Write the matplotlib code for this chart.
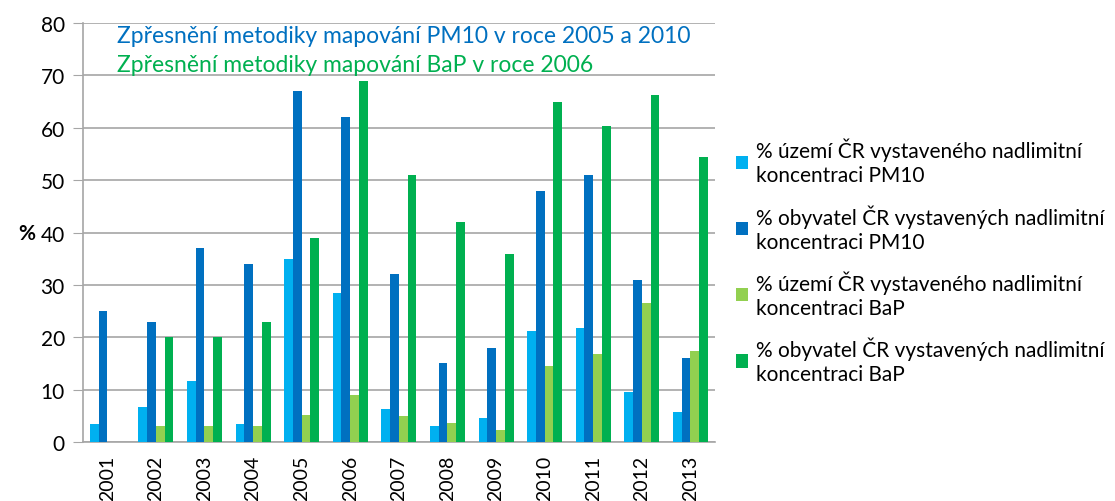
import numpy as np
import matplotlib.pyplot as plt

plt.rcParams['font.family'] = ['Lato', 'DejaVu Sans']

# --- Data ---
roky = ['2001', '2002', '2003', '2004', '2005', '2006', '2007',
        '2008', '2009', '2010', '2011', '2012', '2013']
uzemi_pm10 = [3.4, 6.6, 11.6, 3.4, 35, 28.5, 6.3, 3.0, 4.5, 21.2, 21.8, 9.6, 5.7]
obyv_pm10 = [25, 23, 37, 34, 67, 62, 32, 15, 18, 48, 51, 31, 16]
uzemi_bap = [0, 3.0, 3.0, 3.0, 5.1, 9.0, 4.9, 3.6, 2.35, 14.5, 16.8, 26.6, 17.4]
obyv_bap = [0, 20, 20, 23, 39, 69, 51, 42, 36, 65, 60.3, 66.3, 54.5]

popisky = [
    '% území ČR vystaveného nadlimitní\nkoncentraci PM10',
    '% obyvatel ČR vystavených nadlimitní\nkoncentraci PM10',
    '% území ČR vystaveného nadlimitní\nkoncentraci BaP',
    '% obyvatel ČR vystavených nadlimitní\nkoncentraci BaP',
]
barvy = ['#00B0F0', '#0070C0', '#92D050', '#00B050']

# --- Graf ---
fig = plt.figure(figsize=(11.15, 5.02), dpi=100)
ax = fig.add_axes([0.0744, 0.1175, 0.5666, 0.8345])

x = np.arange(len(roky))
w = 0.18
serie = [uzemi_pm10, obyv_pm10, uzemi_bap, obyv_bap]
for i, (s, c, lab) in enumerate(zip(serie, barvy, popisky)):
    ax.bar(x + (i - 1.5) * w, s, width=w, color=c, label=lab, zorder=3)

ax.set_xlim(-0.5, len(roky) - 0.5)
ax.set_ylim(0, 80)
ax.set_yticks(range(0, 81, 10))
ax.set_xticks(x)
ax.set_xticklabels(roky, rotation=90, fontsize=14)
ax.tick_params(axis='x', length=0, pad=9)
ax.tick_params(axis='y', labelsize=15, color='#A6A6A6', length=7, pad=6)
ax.grid(axis='y', color='#A6A6A6', linewidth=1.2, zorder=0)
for sp in ['top', 'right']:
    ax.spines[sp].set_visible(False)
for sp in ['left', 'bottom']:
    ax.spines[sp].set_color('#A6A6A6')
    ax.spines[sp].set_linewidth(1.2)

ax.set_ylabel('%', rotation=0, fontsize=15, fontweight='bold', labelpad=10, va='center')

ax.text(0.2, 79.6, 'Zpřesnění metodiky mapování PM10 v roce 2005 a 2010',
        color='#0070C0', fontsize=16.5, va='top')
ax.text(0.2, 74.1, 'Zpřesnění metodiky mapování BaP v roce 2006',
        color='#00B050', fontsize=16.5, va='top')

leg = fig.legend(loc='center left', bbox_to_anchor=(0.66, 0.478), frameon=False,
                 fontsize=15, handlelength=0.6, handleheight=0.6, handletextpad=0.35,
                 labelspacing=0.9, borderaxespad=0, borderpad=0)
for t in leg.get_texts():
    t.set_linespacing(1.25)

plt.savefig('out.png', dpi=100)
